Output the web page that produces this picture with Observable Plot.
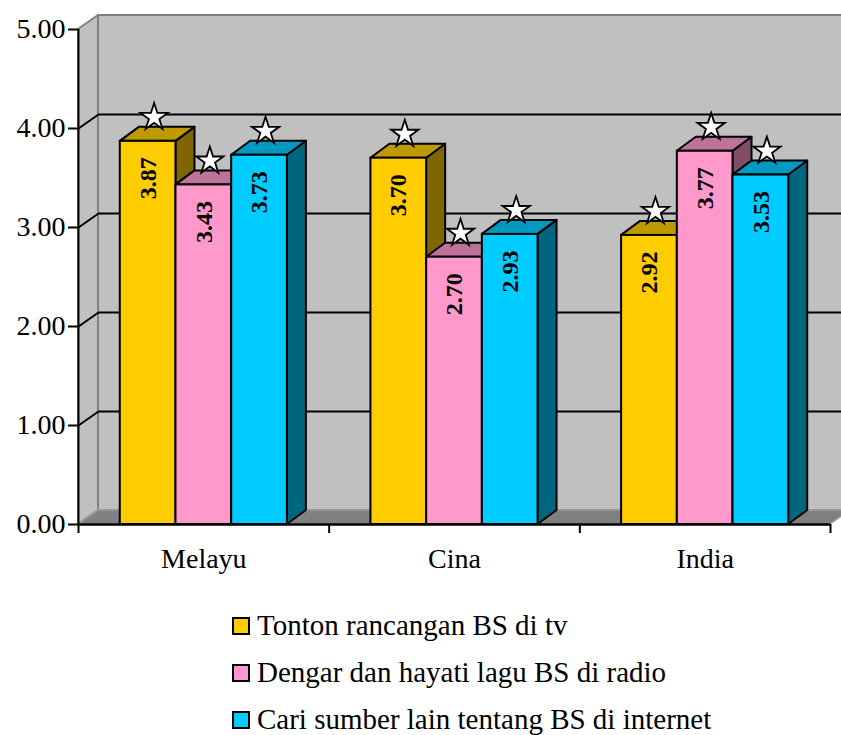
<!DOCTYPE html>
<html>
<head>
<meta charset="utf-8">
<script src="https://cdn.jsdelivr.net/npm/d3@7"></script>
<script src="https://cdn.jsdelivr.net/npm/@observablehq/plot@0.6"></script>
<style>
  body { margin: 0; background: #fff; font-family: "Liberation Serif", "Times New Roman", serif; }
  #legend { margin-left: 232px; padding-top: 12px; font-size: 29px; color: #000; }
  .row { display: flex; align-items: center; height: 47px; white-space: nowrap; }
  .sw { width: 14px; height: 14px; border: 2px solid #000; margin-right: 7px; flex: none; }
</style>
</head>
<body>
<div id="chart"></div>
<div id="legend"></div>
<script>
// Ethnic groups along the x axis
const categories = ["Melayu", "Cina", "India"];

// Activity series (legend order)
const seriesNames = [
  "Tonton rancangan BS di tv",
  "Dengar dan hayati lagu BS di radio",
  "Cari sumber lain tentang BS di internet"
];

// Mean scores per group, one array per activity
const tvScores = [3.87, 3.70, 2.92];
const radioScores = [3.43, 2.70, 3.77];
const internetScores = [3.73, 2.93, 3.53];

// Value axis ticks
const yTicks = [0, 1, 2, 3, 4, 5];

// Face colours: front, top (shaded), side (darker)
const frontColors = ["#FFCC00", "#FF99CC", "#00CCFF"];
const topColors = ["#BF9900", "#BF7399", "#0099BF"];
const sideColors = ["#806600", "#804D66", "#006680"];

const scores = [tvScores, radioScores, internetScores];

// Layout
const width = 841, height = 590;
const marginLeft = 78, marginRight = 11, marginTop = 29, marginBottom = 66;
const nCat = categories.length;
const yMax = yTicks[yTicks.length - 1];
const pxPerX = (width - marginLeft - marginRight) / nCat;
const pxPerY = (height - marginTop - marginBottom) / yMax;

// 3-D depth, expressed in data units so the faces go through the scales
const barDX = 19 / pxPerX, barDY = 14 / pxPerY;
const wallDX = 20 / pxPerX, wallDY = 14 / pxPerY;

// Bar geometry inside each category band (gap width 150%)
const barW = 1 / (seriesNames.length + 1.5);
const pad = (1 - seriesNames.length * barW) / 2;

const bars = categories.flatMap((cat, i) =>
  seriesNames.map((s, j) => {
    const x1 = i + pad + j * barW;
    return {
      id: `${cat}-${j}`, cat, series: s, value: scores[j][i],
      x1, x2: x1 + barW, cx: x1 + barW / 2,
      front: frontColors[j], top: topColors[j], side: sideColors[j]
    };
  })
);

// Top faces (parallelograms) as areas between y1 and y2
const topFaces = bars.flatMap(b => {
  const v = b.value;
  return [
    {id: b.id, c: b.top, x: b.x1, y1: v, y2: v},
    {id: b.id, c: b.top, x: b.x1 + barDX, y1: v, y2: v + barDY},
    {id: b.id, c: b.top, x: b.x2, y1: v, y2: v + barDY},
    {id: b.id, c: b.top, x: b.x2 + barDX, y1: v + barDY, y2: v + barDY}
  ];
});

// Right-hand side faces
const sideFaces = bars.flatMap(b => [
  {id: b.id, c: b.side, x: b.x2, y1: 0, y2: b.value},
  {id: b.id, c: b.side, x: b.x2 + barDX, y1: barDY, y2: b.value + barDY}
]);

// Walls and floor
const backWall = [{x1: wallDX, x2: nCat + wallDX, y1: wallDY, y2: yMax + wallDY}];
const leftWall = [
  {x: 0, y1: 0, y2: yMax},
  {x: wallDX, y1: wallDY, y2: yMax + wallDY}
];
const floor = [
  {x: 0, y1: 0, y2: 0},
  {x: wallDX, y1: 0, y2: wallDY},
  {x: nCat, y1: 0, y2: wallDY},
  {x: nCat + wallDX, y1: wallDY, y2: wallDY}
];
const gridValues = yTicks.slice(1, -1);

const font = "'Liberation Serif', 'Times New Roman', serif";

const chart = Plot.plot({
  width, height, marginLeft, marginRight, marginTop, marginBottom,
  style: {fontFamily: font, fontSize: "28px", color: "#000", background: "#fff"},
  x: {domain: [0, nCat]},
  y: {domain: [0, yMax]},
  marks: [
    // back wall and left wall
    Plot.rect(backWall, {x1: "x1", x2: "x2", y1: "y1", y2: "y2", fill: "#C0C0C0", stroke: "#808080", strokeWidth: 2}),
    Plot.areaY(leftWall, {x: "x", y1: "y1", y2: "y2", fill: "#C0C0C0", stroke: "#808080", strokeWidth: 2}),
    // floor
    Plot.areaY(floor, {x: "x", y1: "y1", y2: "y2", fill: "#808080", stroke: "#A0A0A0", strokeWidth: 1.5}),
    // gridlines on back wall and their diagonals on the left wall
    Plot.ruleY(gridValues, {y: d => d + wallDY, x1: wallDX, x2: nCat + wallDX, stroke: "#000", strokeWidth: 2}),
    Plot.link(gridValues, {x1: 0, y1: d => d, x2: wallDX, y2: d => d + wallDY, stroke: "#000", strokeWidth: 2}),
    // bar faces
    Plot.areaY(sideFaces, {x: "x", y1: "y1", y2: "y2", z: "id", fill: d => d.c, stroke: "#000", strokeWidth: 2, strokeLinejoin: "round"}),
    Plot.areaY(topFaces, {x: "x", y1: "y1", y2: "y2", z: "id", fill: d => d.c, stroke: "#000", strokeWidth: 2, strokeLinejoin: "round"}),
    Plot.rect(bars, {x1: "x1", x2: "x2", y1: 0, y2: "value", fill: d => d.front, stroke: "#000", strokeWidth: 2}),
    // axes
    Plot.ruleX([0], {y1: 0, y2: yMax, stroke: "#000", strokeWidth: 2}),
    Plot.ruleY([0], {x1: 0, x2: nCat, stroke: "#000", strokeWidth: 2.5}),
    Plot.axisY(yTicks, {tickFormat: d3.format(".2f"), tickSize: 10, tickPadding: 3, fontSize: 28, strokeWidth: 2, label: null}),
    Plot.axisX(d3.range(nCat + 1), {tickSize: 9, tickFormat: () => "", strokeWidth: 2, label: null}),
    Plot.axisX(categories.map((c, i) => i + 0.5), {tickSize: 0, tickPadding: 24, tickFormat: d => categories[Math.floor(d)], fontSize: 28, label: null}),
    // value labels inside bars
    Plot.text(bars, {x: "cx", y: "value", text: d => d.value.toFixed(2), rotate: -90, textAnchor: "end", dy: 16, fontSize: 24, fontWeight: "bold", fill: "#000"}),
    // star markers above bars
    Plot.dot(bars, {x: "cx", y: "value", symbol: "star", r: 8.6, dx: 6, dy: -24, fill: "#fff", stroke: "#000", strokeWidth: 1.8, strokeLinejoin: "miter"})
  ]
});

document.getElementById("chart").append(chart);

// Legend below the chart
const legend = document.getElementById("legend");
seriesNames.forEach((name, j) => {
  const row = document.createElement("div");
  row.className = "row";
  const sw = document.createElement("span");
  sw.className = "sw";
  sw.style.background = frontColors[j];
  const label = document.createElement("span");
  label.textContent = name;
  row.append(sw, label);
  legend.append(row);
});
</script>
</body>
</html>
